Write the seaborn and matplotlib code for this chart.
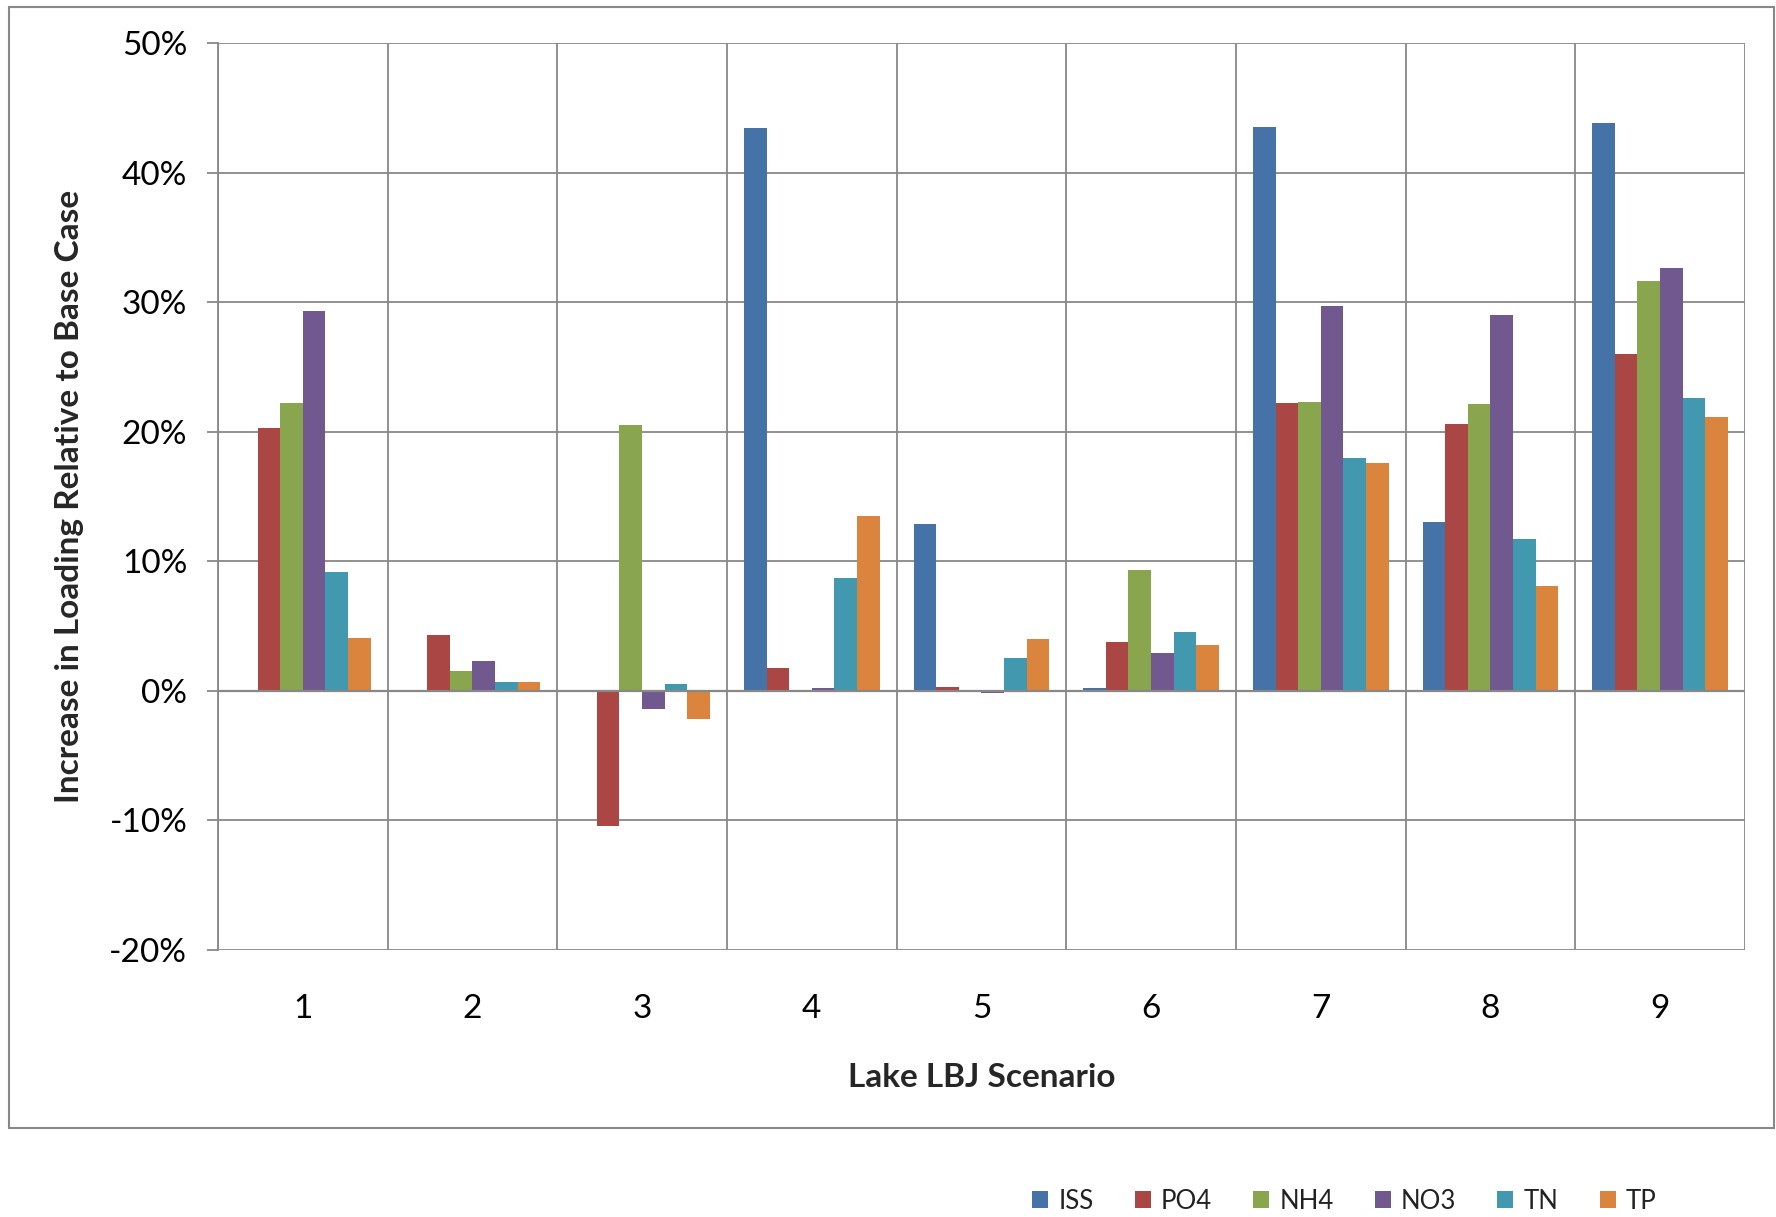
import pandas as pd
import seaborn as sns
import matplotlib.pyplot as plt
from matplotlib.patches import Rectangle
from matplotlib.ticker import PercentFormatter, MultipleLocator, FixedLocator

# values (percent increase vs base case)
scenarios = ['1', '2', '3', '4', '5', '6', '7', '8', '9']
series = ['ISS', 'PO4', 'NH4', 'NO3', 'TN', 'TP']
iss = [0.1, 0.0, 0.1, 43.4, 12.9, 0.2, 43.5, 13.0, 43.8]
po4 = [20.3, 4.3, -10.4, 1.8, 0.3, 3.8, 22.2, 20.6, 26.0]
nh4 = [22.2, 1.5, 20.5, 0.0, 0.0, 9.3, 22.3, 22.1, 31.6]
no3 = [29.3, 2.3, -1.4, 0.2, -0.2, 2.9, 29.7, 29.0, 32.6]
tn = [9.2, 0.7, 0.5, 8.7, 2.5, 4.55, 18.0, 11.7, 22.6]
tp = [4.1, 0.7, -2.2, 13.5, 4.0, 3.5, 17.6, 8.1, 21.1]
colors = ['#4572A7', '#AA4643', '#89A54E', '#71588F', '#4198AF', '#DB843D']

sns.set_style('white')
plt.rcParams['font.family'] = ['Lato', 'DejaVu Sans']
plt.rcParams['axes.unicode_minus'] = False

df = pd.DataFrame({'ISS': iss, 'PO4': po4, 'NH4': nh4, 'NO3': no3, 'TN': tn, 'TP': tp},
                  index=scenarios)
df.index.name = 'scenario'
long = df.reset_index().melt(id_vars='scenario', var_name='series', value_name='pct')

fig = plt.figure(figsize=(17.76, 12.17), dpi=100)
ax = fig.add_axes([0.1227, 0.2194, 0.8598, 0.7453])

grid_c = '#888888'
ax.set_axisbelow(True)
sns.barplot(data=long, x='scenario', y='pct', hue='series', hue_order=series,
            palette=colors, width=0.8, edgecolor='none', linewidth=0,
            saturation=1, ax=ax, legend=True)

ax.set_ylim(-20, 50)
ax.set_xlim(-0.5, 8.5)
ax.yaxis.set_major_locator(MultipleLocator(10))
ax.yaxis.set_major_formatter(PercentFormatter(decimals=0))
ax.xaxis.set_minor_locator(FixedLocator([i - 0.5 for i in range(len(scenarios) + 1)]))
ax.grid(axis='y', which='major', color=grid_c, linewidth=1.3)
ax.grid(axis='x', which='minor', color=grid_c, linewidth=1.3)
ax.axhline(0, color=grid_c, linewidth=1.6, zorder=3)

for s in ['top', 'right', 'bottom']:
    ax.spines[s].set_visible(False)
ax.spines['left'].set_color(grid_c)
ax.spines['left'].set_linewidth(1.3)

ax.tick_params(axis='y', which='major', length=8, width=1.3, color=grid_c,
               pad=14, labelsize=24, labelcolor='black', left=True)
ax.tick_params(axis='x', which='major', length=0, pad=32, labelsize=24,
               labelcolor='black')
ax.tick_params(axis='x', which='minor', length=0)

ax.set_xlabel('Lake LBJ Scenario', fontsize=24, fontweight='bold', labelpad=28)
ax.set_ylabel('Increase in Loading Relative to Base Case', fontsize=24,
              fontweight='bold', labelpad=18)

handles, labels = ax.get_legend_handles_labels()
ax.get_legend().remove()
fig.legend(handles, labels, loc='center', bbox_to_anchor=(0.757, 0.013),
           ncol=6, frameon=False, fontsize=18.5, handlelength=0.62,
           handleheight=0.62, handletextpad=0.4, columnspacing=1.6,
           labelcolor='#222222')

fig.patches.append(Rectangle((0.005, 0.073), 0.994, 0.921, transform=fig.transFigure,
                             fill=False, edgecolor=grid_c, linewidth=1.5))

fig.savefig('out.png', dpi=100)
